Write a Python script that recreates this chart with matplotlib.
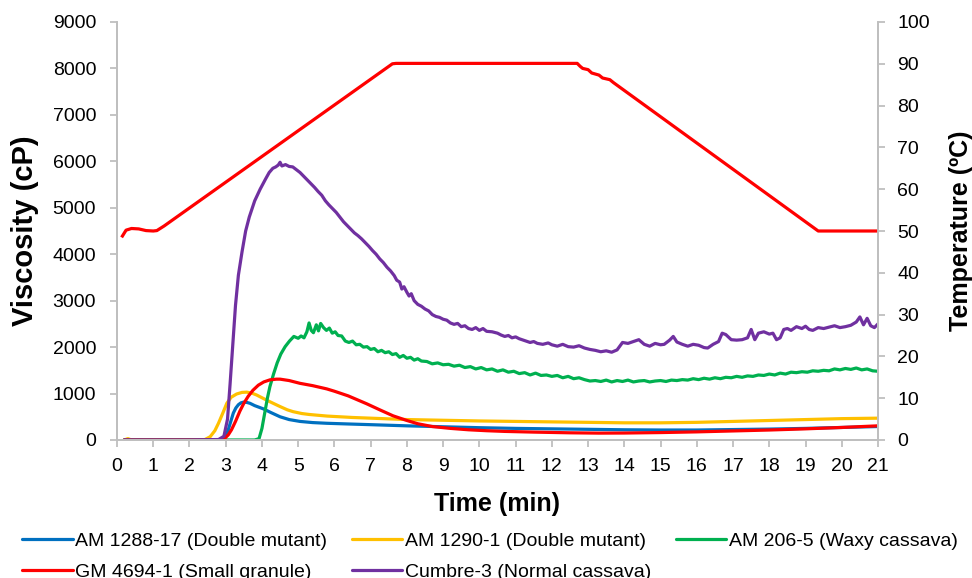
import matplotlib
matplotlib.use("Agg")
import matplotlib.pyplot as plt

plt.rcParams['font.family'] = ['Liberation Sans', 'DejaVu Sans']

# Cumbre-3 (Normal cassava)
t_cumbre = [0.2, 1.0, 2.0, 2.8, 2.95, 3.05, 3.12, 3.2, 3.27, 3.35, 3.45, 3.55, 3.65, 3.8, 3.95,
            4.1, 4.2, 4.3, 4.38, 4.45, 4.5, 4.55, 4.65, 4.75, 4.85, 4.95, 5.05, 5.15, 5.25, 5.35,
            5.45, 5.55, 5.65, 5.75, 5.85, 5.95, 6.05, 6.15, 6.25, 6.35, 6.45, 6.55, 6.65, 6.75,
            6.85, 6.95, 7.05, 7.15, 7.25, 7.35, 7.45, 7.55, 7.65, 7.72, 7.8, 7.86, 7.92, 8.0,
            8.06, 8.12, 8.2, 8.3, 8.4, 8.5, 8.6, 8.7, 8.8, 8.9, 9.0, 9.1, 9.2, 9.3, 9.4, 9.5,
            9.6, 9.7, 9.8, 9.9, 10.0, 10.1, 10.2, 10.35, 10.5, 10.6, 10.7, 10.8, 10.9, 11.0,
            11.1, 11.25, 11.4, 11.5, 11.6, 11.75, 11.9, 12.0, 12.15, 12.3, 12.45, 12.6, 12.75,
            12.9, 13.05, 13.2, 13.35, 13.5, 13.65, 13.8, 13.95, 14.1, 14.25, 14.4, 14.55, 14.7,
            14.85, 15.0, 15.1, 15.25, 15.35, 15.45, 15.6, 15.75, 15.9, 16.05, 16.2, 16.3, 16.45,
            16.6, 16.7, 16.8, 16.95, 17.1, 17.25, 17.4, 17.5, 17.6, 17.7, 17.85, 18.0, 18.1,
            18.2, 18.3, 18.4, 18.5, 18.6, 18.75, 18.9, 19.0, 19.1, 19.2, 19.35, 19.5, 19.65,
            19.8, 19.95, 20.1, 20.25, 20.4, 20.5, 20.6, 20.7, 20.8, 20.9, 21.0]
v_cumbre = [0, 0, 0, 10, 80, 450, 1200, 2100, 2900, 3550, 4050, 4500, 4800, 5150, 5400,
            5620, 5760, 5850, 5880, 5920, 5980, 5900, 5930, 5890, 5880, 5820, 5760, 5680, 5600, 5520,
            5440, 5350, 5270, 5150, 5060, 4980, 4900, 4800, 4700, 4620, 4540, 4460, 4400, 4330,
            4250, 4170, 4080, 4000, 3900, 3820, 3720, 3640, 3540, 3440, 3400, 3250, 3300, 3180,
            3100, 3150, 3000, 2920, 2880, 2820, 2780, 2700, 2660, 2640, 2600, 2580, 2520, 2490, 2510, 2440,
            2460, 2400, 2380, 2420, 2360, 2400, 2340, 2330, 2300, 2260, 2230, 2250, 2200, 2220,
            2180, 2140, 2100, 2120, 2080, 2060, 2090, 2050, 2020, 2060, 2010, 2000, 2030,
            1980, 1950, 1930, 1900, 1920, 1890, 1940, 2100, 2080, 2120, 2160, 2060, 2020,
            2080, 2050, 2060, 2150, 2230, 2110, 2060, 2020, 2060, 2040, 1990, 1980, 2060,
            2120, 2300, 2270, 2160, 2150, 2160, 2200, 2380, 2160, 2300, 2330, 2280, 2300,
            2160, 2200, 2380, 2400, 2360, 2440, 2400, 2450, 2380, 2360, 2420, 2400, 2430,
            2460, 2420, 2440, 2470, 2540, 2650, 2480, 2620, 2460, 2420, 2500]

# AM 206-5 (Waxy cassava)
t_waxy = [0.2, 3.8, 3.92, 4.0, 4.08, 4.15, 4.22, 4.32, 4.42, 4.52, 4.64, 4.76, 4.88, 5.0, 5.08,
          5.16, 5.24, 5.3, 5.36, 5.42, 5.5, 5.56, 5.62, 5.7, 5.78, 5.86, 5.94, 6.02, 6.1, 6.2,
          6.3, 6.4, 6.5, 6.6, 6.7, 6.8, 6.9, 7.0, 7.1, 7.2, 7.3, 7.4, 7.5, 7.6, 7.7, 7.8, 7.9,
          8.0, 8.1, 8.2, 8.3, 8.4, 8.55, 8.7, 8.85, 9.0, 9.15, 9.3, 9.45, 9.6, 9.75, 9.9, 10.05,
          10.2, 10.35, 10.5, 10.65, 10.8, 10.95, 11.1, 11.25, 11.4, 11.55, 11.7, 11.85, 12.0,
          12.15, 12.3, 12.45, 12.6, 12.75, 12.9, 13.05, 13.2, 13.35, 13.5, 13.65, 13.8, 13.95,
          14.1, 14.25, 14.4, 14.55, 14.7, 14.85, 15.0, 15.15, 15.3, 15.45, 15.6, 15.75, 15.9,
          16.05, 16.2, 16.35, 16.5, 16.65, 16.8, 16.95, 17.1, 17.25, 17.4, 17.55, 17.7, 17.85,
          18.0, 18.15, 18.3, 18.45, 18.6, 18.75, 18.9, 19.05, 19.2, 19.35, 19.5, 19.65, 19.8,
          19.95, 20.1, 20.25, 20.4, 20.55, 20.7, 20.85, 21.0]
v_waxy = [0, 0, 30, 250, 600, 900, 1150, 1420, 1660, 1850, 2010, 2130, 2230, 2190, 2240,
          2200, 2330, 2520, 2360, 2310, 2480, 2350, 2510, 2420, 2360, 2410, 2300, 2330, 2250, 2240,
          2130, 2100, 2130, 2050, 2060, 2000, 2010, 1950, 1970, 1900, 1930, 1880, 1900, 1840, 1860, 1780, 1820,
          1760, 1780, 1720, 1750, 1700, 1690, 1640, 1660, 1620, 1630, 1590, 1610, 1560, 1580, 1530, 1560,
          1510, 1530, 1480, 1510, 1460, 1480, 1430, 1450, 1400, 1440, 1390, 1400, 1370,
          1390, 1340, 1370, 1320, 1340, 1300, 1270, 1280, 1260, 1290, 1250, 1280, 1260,
          1290, 1250, 1270, 1280, 1250, 1270, 1280, 1260, 1290, 1280, 1300, 1290, 1320,
          1300, 1330, 1310, 1340, 1320, 1350, 1340, 1370, 1350, 1380, 1370, 1400, 1390,
          1420, 1400, 1440, 1420, 1460, 1450, 1470, 1460, 1490, 1480, 1500, 1490, 1530,
          1510, 1540, 1520, 1550, 1510, 1530, 1490, 1480]

# AM 1290-1 (Double mutant)
t_1290 = [0.2, 0.3, 0.4, 2.4, 2.57, 2.7, 2.8, 2.92, 3.03, 3.15, 3.3, 3.45, 3.58, 3.72, 3.85,
          4.0, 4.15, 4.31, 4.5, 4.7, 4.86, 5.1, 5.3, 5.51, 5.8, 6.15, 6.5, 7.0, 7.5, 8.0, 9.0,
          10.0, 11.0, 12.0, 13.0, 14.0, 15.0, 16.0, 17.0, 18.0, 19.0, 20.0, 21.0]
v_1290 = [0, 30, 0, 0, 70, 200, 360, 580, 790, 920, 990, 1025, 1030, 1010, 970,
          910, 850, 790, 720, 650, 610, 570, 550, 535, 515, 500, 485, 470, 455, 440, 425,
          410, 400, 390, 380, 370, 370, 380, 400, 420, 440, 460, 470]

# AM 1288-17 (Double mutant)
t_1288 = [0.2, 2.85, 2.93, 3.0, 3.07, 3.14, 3.21, 3.28, 3.35, 3.42, 3.49, 3.58, 3.67, 3.8,
          4.04, 4.25, 4.5, 4.75, 5.05, 5.4, 5.79, 6.38, 7.0, 8.0, 9.0, 10.0, 11.0, 12.0, 13.0,
          14.0, 15.0, 16.0, 17.0, 18.0, 19.0, 20.0, 21.0]
v_1288 = [0, 0, 40, 110, 220, 400, 580, 690, 760, 800, 815, 810, 790, 740,
          670, 590, 500, 440, 400, 375, 360, 345, 330, 305, 285, 265, 250, 240, 230,
          220, 215, 215, 225, 235, 250, 270, 290]

# GM 4694-1 (Small granule)
t_4694 = [0.2, 2.9, 2.98, 3.07, 3.16, 3.27, 3.39, 3.5, 3.62, 3.75, 3.9, 4.05, 4.22, 4.4, 4.5,
          4.75, 5.05, 5.4, 5.79, 6.0, 6.38, 6.89, 7.25, 7.62, 8.0, 8.3, 8.7, 9.2, 9.7, 10.2,
          10.7, 11.5, 12.5, 13.3, 14.0, 15.0, 16.0, 17.0, 18.0, 19.0, 20.0, 21.0]
v_4694 = [0, 0, 40, 110, 220, 400, 620, 790, 940, 1070, 1180, 1250, 1295, 1310, 1310,
          1280, 1220, 1170, 1100, 1050, 950, 780, 650, 520, 420, 350, 290, 250, 220, 200,
          185, 170, 155, 148, 150, 160, 175, 195, 215, 240, 270, 305]

# temperature profile (right axis)
t_temp = [0.15, 0.25, 0.4, 0.6, 0.8, 1.0, 1.1, 1.3, 7.6, 7.7, 10.0, 12.7, 12.78, 12.85,
          13.0, 13.1, 13.3, 13.4, 13.6, 13.7, 19.35, 21.0]
temp = [48.8, 50.2, 50.6, 50.5, 50.1, 50.0, 50.1, 51.2, 90.0, 90.1, 90.1, 90.1, 89.4, 88.9,
        88.6, 87.8, 87.3, 86.6, 86.2, 85.5, 50.0, 50.0]

series = [
    ("AM 1288-17 (Double mutant)", t_1288, v_1288, "#0070C0"),
    ("AM 1290-1 (Double mutant)", t_1290, v_1290, "#FFC000"),
    ("AM 206-5 (Waxy cassava)", t_waxy, v_waxy, "#00B050"),
    ("GM 4694-1 (Small granule)", t_4694, v_4694, "#FF0000"),
    ("Cumbre-3 (Normal cassava)", t_cumbre, v_cumbre, "#7030A0"),
]

grey = "#BFBFBF"

fig = plt.figure(figsize=(9.72, 5.78), dpi=100)
ax = fig.add_axes([117 / 972, 1 - 440 / 578, 761 / 972, 418 / 578])
ax2 = ax.twinx()

lines = []
for name, t, v, col in series:
    ln, = ax.plot(t, v, color=col, lw=2.3, label=name, solid_capstyle="round")
    lines.append(ln)

ax2.plot(t_temp, temp, color="#FF0000", lw=2.3)

ax.set_xlim(0, 21)
ax.set_ylim(0, 9000)
ax2.set_ylim(0, 100)
ax.set_xticks(range(0, 22))
ax.set_yticks(range(0, 9001, 1000))
ax2.set_yticks(range(0, 101, 10))

for a in (ax, ax2):
    for s in a.spines.values():
        s.set_color(grey)
        s.set_linewidth(1.3)
    a.spines["top"].set_visible(False)
    a.tick_params(colors=grey, labelcolor="black", labelsize=14, length=5, width=1.3)
ax.tick_params(axis="x", pad=8)
ax.tick_params(axis="y", pad=10)
ax2.tick_params(axis="y", pad=9)

ax.set_xlabel("Time (min)", fontsize=18, fontweight="bold")
ax.set_ylabel("Viscosity (cP)", fontsize=21, fontweight="bold")
ax2.set_ylabel("Temperature (ºC)", fontsize=18, fontweight="bold")
ax.xaxis.set_label_coords(0.5, -0.125)
ax.yaxis.set_label_coords(-0.103, 0.5)
ax2.yaxis.set_label_coords(1.093, 0.5)

# legend fills row by row like the original: reorder for matplotlib's column filling
order = [0, 3, 1, 4, 2]
fig.legend([lines[i] for i in order], [series[i][0] for i in order],
           loc="upper left", bbox_to_anchor=(22 / 972, 1 - 532 / 578), ncol=3,
           frameon=False, fontsize=14, handlelength=2.6, handletextpad=0.15,
           columnspacing=1.25, labelspacing=0.7, borderpad=0, borderaxespad=0)

fig.savefig("out.png", dpi=100)
